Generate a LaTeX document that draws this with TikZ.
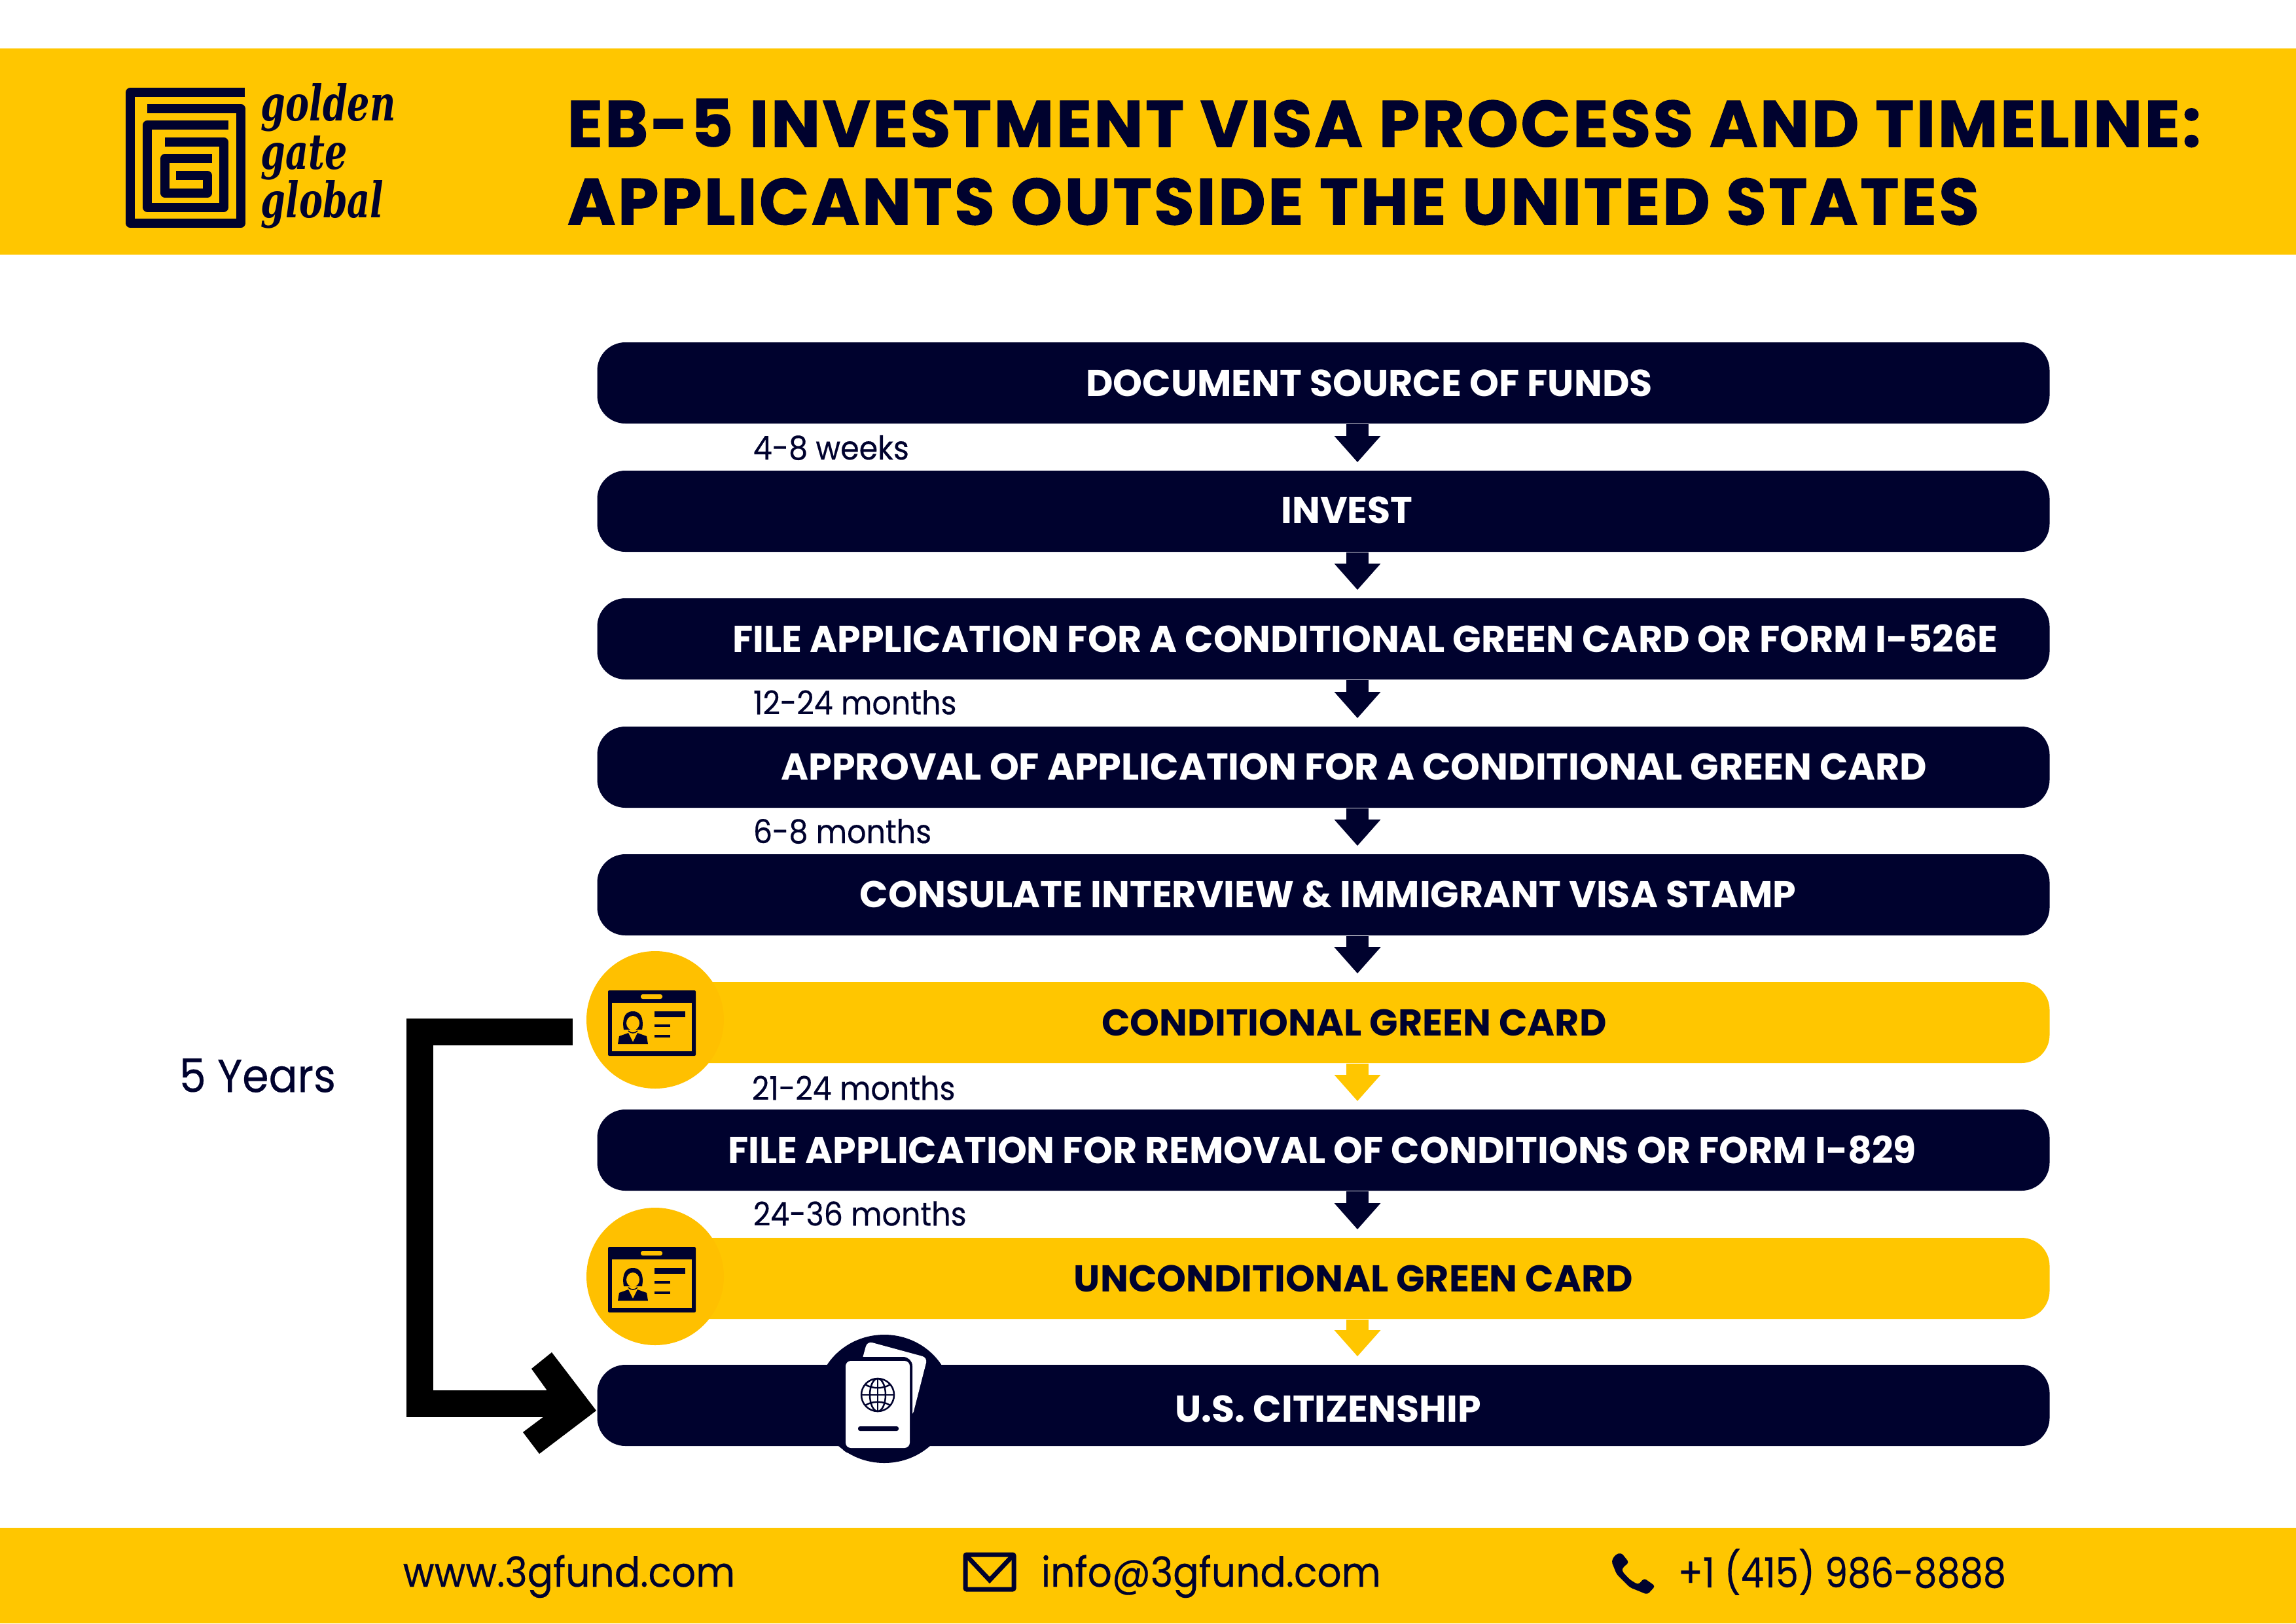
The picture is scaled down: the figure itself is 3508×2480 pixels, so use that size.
\documentclass[tikz,border=0pt]{standalone}
\usepackage{fontspec}
\usetikzlibrary{arrows.meta,shapes.geometric}
\setmainfont{Poppins}[FakeStretch=0.92,FakeBold=0.3]
\newfontfamily\barfont{Poppins}
\newfontfamily\phonefont{Poppins}[FakeStretch=0.88,FakeBold=0.3]
\newfontfamily\titlefont{Poppins}[LetterSpace=3.5,BoldFeatures={FakeBold=1.2}]
\newfontfamily\logofont{DejaVu Serif}[FakeStretch=0.72]
\definecolor{navy}{HTML}{00022E}
\definecolor{gold}{HTML}{FFC600}
\definecolor{badge}{HTML}{FFC000}
\def\u{0.24pt}
\tikzset{
  bar/.style={rectangle,minimum width=2219*\u,minimum height=124*\u,rounded corners=43*\u,inner sep=0pt},
  barlabel/.style={font=\barfont\fontsize{13.7}{14}\selectfont\bfseries,inner sep=0pt,text height=40*\u,text depth=0pt},
  timelabel/.style={font=\fontsize{12}{14}\selectfont,text=navy,anchor=west,inner sep=0pt},
  footlabel/.style={font=\fontsize{15.2}{16}\selectfont,text=navy,anchor=base west,inner sep=0pt},
  titlelabel/.style={font=\titlefont\fontsize{24}{28}\selectfont\bfseries,text=navy,anchor=west,inner sep=0pt},
  logolabel/.style={font=\logofont\fontsize{18}{18}\selectfont\bfseries\itshape,text=navy,anchor=base west,inner sep=0pt},
  flow/.style={line width=34*\u,-{Triangle[width=68*\u,length=40*\u]},shorten >=12*\u},
  spiral/.style={draw=navy,line width=13.5*\u,line join=round},
  idcard/.pic={
    \fill[navy,rounded corners=2*\u] (-72,-45) rectangle (62,55);
    \fill[badge] (-66,-26) rectangle (56,48);
    \fill[badge,rounded corners=3*\u] (-22,-39) rectangle (11,-32);
    \fill[navy] (-1,-13) rectangle (46,-4);
    \fill[navy] (-1,7) rectangle (23,11);
    \fill[navy] (-1,23) rectangle (23,27);
    \fill[navy] (-48,15) .. controls (-50,5) and (-50,-13) .. (-34,-13) .. controls (-18,-13) and (-18,5) .. (-20,15) -- cycle;
    \fill[badge] (-34,5) ellipse (10 and 11);
    \draw[navy,line width=1.5*\u] (-41,17) .. controls (-37,21) and (-31,21) .. (-27,17);
    \fill[navy] (-57,37) -- (-55,25) -- (-41,20) -- (-34,34) -- (-27,20) -- (-13,25) -- (-11,37) -- cycle;
  }
}
\begin{document}
\begin{tikzpicture}[x=\u,y=-\u]
\useasboundingbox (0,0) rectangle (3508,2480);

%Header and footer bands
\fill[gold] (0,74) rectangle (3508,389);
\fill[gold] (0,2334) rectangle (3508,2480);

%Logo spiral
\draw[spiral] (374,141) -- (199,141) -- (199,341) -- (368,341) -- (368,166) -- (225,166);
\draw[spiral] (349,191) -- (225,191) -- (225,317) -- (342,317) -- (342,217) -- (252,217);
\draw[spiral] (324,242) -- (252,242) -- (252,295) -- (317,295) -- (317,268) -- (269,268);
\node[logolabel] (golden) at (398,184) {golden};
\node[logolabel] (gate) at (398,258) {gate};
\node[logolabel] (global) at (398,332) {global};

%Title
\node[titlelabel] (title1) at (866,188) {EB-5 INVESTMENT VISA PROCESS AND TIMELINE:};
\node[titlelabel] (title2) at (866,308) {APPLICANTS OUTSIDE THE UNITED STATES};

%Bars of the process
\def\barx{2022}
\foreach [count=\i] \y/\ly/\cx/\col/\tcol/\txt in {
  585/585/2092/navy/white/DOCUMENT SOURCE OF FUNDS,
  781/779/2058/navy/white/INVEST,
  976/976/2086/navy/white/FILE APPLICATION FOR A CONDITIONAL GREEN CARD OR FORM I-526E,
  1172/1171/2069/navy/white/APPROVAL OF APPLICATION FOR A CONDITIONAL GREEN CARD,
  1367/1366/2029/navy/white/CONSULATE INTERVIEW \& IMMIGRANT VISA STAMP,
  1562/1562/2069/gold/navy/CONDITIONAL GREEN CARD,
  1757/1757/2020/navy/white/FILE APPLICATION FOR REMOVAL OF CONDITIONS OR FORM I-829,
  1953/1953/2068/gold/navy/UNCONDITIONAL GREEN CARD,
  2147/2152/2029/navy/white/U.S. CITIZENSHIP}
{
  \node[bar,fill=\col] (bar\i) at (\barx,\y) {};
  \node[barlabel,text=\tcol] (label\i) at (\cx,\ly) {\txt};
}

%Badges
\node[circle,fill=badge,minimum size=210*\u,inner sep=0pt] (badge1) at (1001,1558) {};
\node[circle,fill=badge,minimum size=210*\u,inner sep=0pt] (badge2) at (1001,1950) {};
\pic at (1001,1558) {idcard};
\pic at (1001,1950) {idcard};

%Arrows between the bars
\coordinate (axis) at (2074,0);
\foreach \a/\b/\col in {1/2/navy,2/3/navy,3/4/navy,4/5/navy,5/6/navy,6/7/gold,7/8/navy,8/9/gold}
  \draw[flow,\col] (bar\a.south -| axis) -- (bar\b.north -| axis);

%Durations
\node[timelabel] (t1) at (1150,684) {4-8 weeks};
\node[timelabel] (t2) at (1150,1073) {12-24 months};
\node[timelabel] (t3) at (1150,1270) {6-8 months};
\node[timelabel] (t4) at (1148,1662) {21-24 months};
\node[timelabel] (t5) at (1150,1854) {24-36 months};

%Five year bracket
\node[timelabel,font=\fontsize{17}{18}\selectfont] (years) at (273,1643) {5 Years};
\coordinate (from) at (875,1576);
\coordinate (corner) at (641,1576);
\coordinate (to) at (880,2144);
\draw[line width=41*\u] (from) -- (corner) -- (corner |- to) -- (to);
\fill (843,2066) -- (911,2155) -- (824,2221) -- (799,2188) -- (831,2164) -- (835,2123) -- (812,2091) -- cycle;

%Passport
\node[ellipse,fill=navy,minimum width=206*\u,minimum height=196*\u,inner sep=0pt] (passport) at (1351,2137) {};
\fill[white,rounded corners=8*\u] (1325,2049) -- (1417,2074) -- (1394,2164) -- (1300,2140) -- cycle;
\fill[navy,rounded corners=14*\u] (1285,2073) rectangle (1394,2220);
\fill[white,rounded corners=8*\u] (1292,2079) rectangle (1390,2212);
\draw[navy,line width=2.5*\u] (1341,2131) circle (25);
\draw[navy,line width=2.5*\u] (1341,2131) ellipse (12 and 25);
\draw[navy,line width=2.5*\u] (1341,2106) -- (1341,2156);
\draw[navy,line width=2.5*\u] (1316,2131) -- (1366,2131);
\draw[navy,line width=2.5*\u] (1322,2115) .. controls (1332,2122) and (1350,2122) .. (1360,2115);
\draw[navy,line width=2.5*\u] (1322,2147) .. controls (1332,2140) and (1350,2140) .. (1360,2147);
\fill[navy,rounded corners=3*\u] (1311,2179) rectangle (1373,2186);

%Footer
\node[footlabel] (web) at (615,2424) {www.3gfund.com};
\node[footlabel] (mail) at (1590,2424) {info@3gfund.com};
\node[footlabel,font=\phonefont\fontsize{15.2}{16}\selectfont] (phone) at (2563,2425) {+1 (415) 986-8888};
\draw[navy,line width=7*\u,rounded corners=2*\u] (1475,2375) rectangle (1549,2428);
\draw[navy,line width=7*\u] (1478,2378) -- (1512,2414) -- (1546,2378);
\fill[navy,rounded corners=4*\u] (2477,2372) -- (2489,2387) -- (2479,2395) -- (2478,2400) -- (2490,2413) -- (2503,2421) -- (2512,2411) -- (2529,2423) -- (2517,2436) -- (2490,2425) -- (2470,2405) -- (2462,2385) -- (2468,2375) -- cycle;
\end{tikzpicture}
\end{document}
